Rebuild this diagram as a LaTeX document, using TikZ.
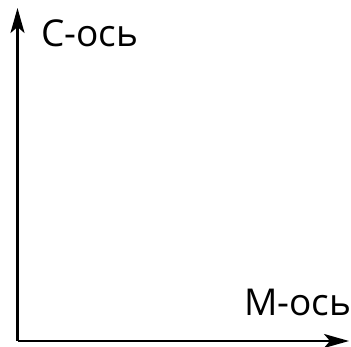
\documentclass[tikz,border=0pt]{standalone}
\usepackage{fontspec}
\setmainfont{Open Sans}
\usetikzlibrary{arrows.meta}
\begin{document}
\begin{tikzpicture}[
                x=1pt, y=-1pt,
                eixo/.style={line width=2.4pt, -{Stealth[length=25pt, width=14pt, inset=6pt]}},
                rotulo/.style={anchor=base west, inner sep=0pt, font=\fontsize{37}{44}\selectfont},
            ]
            \useasboundingbox (0, 0) rectangle (351, 347);
            \coordinate (o) at (17.5, 341);
            \coordinate (c) at (17.5, 8);
            \coordinate (m) at (349, 341);
            \node[rotulo] (cl) at (41, 47) {С-ось};
            \node[rotulo] (ml) at (244, 316) {М-ось};

            \draw[eixo] (o) -- (c);
            \draw[eixo] (o) -- (m);
        \end{tikzpicture}
\end{document}
